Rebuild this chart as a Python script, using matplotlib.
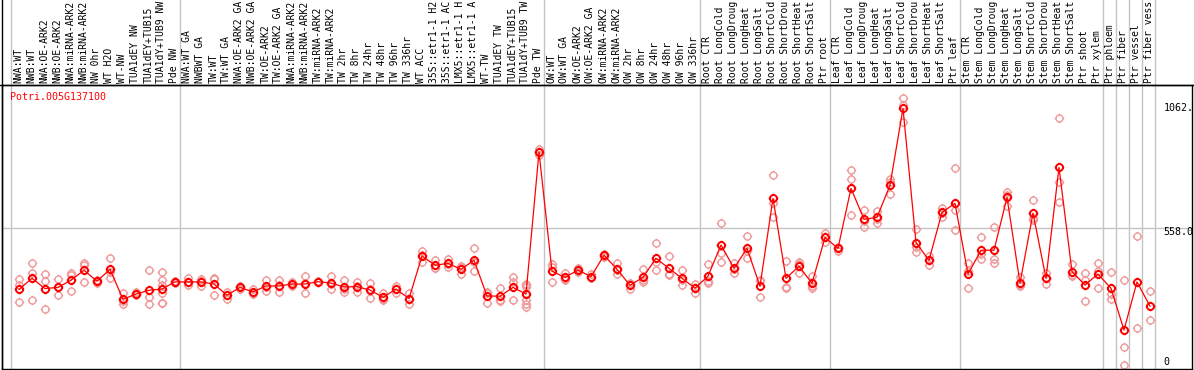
import numpy as np
import matplotlib
matplotlib.use("Agg")
import matplotlib.pyplot as plt
from matplotlib.path import Path
from matplotlib.transforms import blended_transform_factory

# ---------------- data ----------------
gene_id = "Potri.005G137100"

grp1 = ["NWA:WT", "NWB:WT", "NWA:OE-ARK2", "NWB:OE-ARK2", "NWA:miRNA-ARK2",
        "NWB:miRNA-ARK2", "NW 0hr", "WT H2O", "WT-NW", "TUA1dEY NW",
        "TUA1dEY+TUB15", "TUA1dY+TUB9 NW", "Pde NW"]
grp2 = ["NWA:WT GA", "NWBWT GA", "TW:WT", "TW:WT GA", "NWA:OE-ARK2 GA",
        "NWB:OE-ARK2 GA", "TW:OE-ARK2", "TW:OE-ARK2 GA", "NWA:miRNA-ARK2",
        "NWB:miRNA-ARK2", "TW:miRNA-ARK2", "TW:miRNA-ARK2", "TW 2hr", "TW 8hr",
        "TW 24hr", "TW 48hr", "TW 96hr", "TW 336hr", "WT ACC",
        "35S::etr1-1 H2", "35S::etr1-1 AC", "LMX5::etr1-1 H", "LMX5::etr1-1 A",
        "WT-TW", "TUA1dEY TW", "TUA1dEY+TUB15", "TUA1dY+TUB9 TW", "Pde TW"]
grp3 = ["OW:WT", "OW:WT GA", "OW:OE-ARK2", "OW:OE-ARK2 GA", "OW:miRNA-ARK2",
        "OW:miRNA-ARK2", "OW 2hr", "OW 8hr", "OW 24hr", "OW 48hr", "OW 96hr",
        "OW 336hr"]
grp4 = ["Root CTR", "Root LongCold", "Root LongDroug", "Root LongHeat",
        "Root LongSalt", "Root ShortCold", "Root ShortDrou", "Root ShortHeat",
        "Root ShortSalt", "Ptr root"]
grp5 = ["Leaf CTR", "Leaf LongCold", "Leaf LongDroug", "Leaf LongHeat",
        "Leaf LongSalt", "Leaf ShortCold", "Leaf ShortDrou", "Leaf ShortHeat",
        "Leaf ShortSalt", "Ptr leaf"]
grp6 = ["Stem CTR", "Stem LongCold", "Stem LongDroug", "Stem LongHeat",
        "Stem LongSalt", "Stem ShortCold", "Stem ShortDrou", "Stem ShortHeat",
        "Stem ShortSalt", "Ptr shoot", "Ptr xylem"]
grp7 = ["Ptr phloem"]
grp8 = ["Ptr fiber"]
grp9 = ["Ptr vessel"]
grp10 = ["Ptr fiber vess"]
groups = [grp1, grp2, grp3, grp4, grp5, grp6, grp7, grp8, grp9, grp10]
categories = [c for g in groups for c in g]

means = [302, 348, 305, 310, 340, 382, 336, 386, 260, 282, 298, 303, 333,
         333, 333, 324, 277, 310, 291, 316, 316, 324, 324, 334, 328, 312, 313,
         299, 268, 303, 263, 442, 403, 411, 386, 424, 274, 273, 310, 282, 879,
         378, 352, 383, 355, 445, 386, 319, 352, 432, 390, 348, 307,
         357, 488, 390, 474, 315, 684, 348, 399, 327, 520,
         474, 726, 596, 604, 739, 1062, 498, 424, 625, 663,
         366, 466, 466, 688, 328, 622, 348, 814, 376, 320, 366,
         306, 131, 333, 231]

replicates = [
    [344, 320, 247], [412, 369, 257], [366, 338, 218], [344, 312, 277],
    [369, 362, 295], [412, 404, 331], [341, 336, 330], [433, 376, 349],
    [288, 252, 240], [291, 282, 276], [382, 268, 240],
    [373, 341, 320, 285, 245, 243], [338, 333, 330],
    [349, 333, 319], [347, 335, 317], [349, 345, 278], [291, 280, 260],
    [315, 310, 303], [305, 285, 283], [340, 313, 295], [340, 319, 289],
    [331, 324, 317], [358, 329, 285], [337, 334, 331], [358, 324, 302],
    [341, 304, 291], [331, 316, 292], [328, 305, 264], [285, 262, 257],
    [317, 304, 288], [288, 260, 241], [463, 445, 418], [424, 393, 392],
    [429, 407, 397], [398, 394, 366], [475, 418, 380], [291, 285, 246],
    [306, 259, 254], [354, 333, 256], [323, 318, 313, 257, 239, 226],
    [893, 879, 865],
    [407, 397, 331], [369, 347, 341], [390, 383, 376], [365, 352, 348],
    [452, 447, 439], [411, 382, 365], [327, 324, 305], [386, 340, 331],
    [495, 418, 384], [442, 365, 363], [382, 343, 319], [326, 307, 288],
    [408, 336, 327], [579, 453, 418], [414, 387, 369], [526, 464, 432],
    [341, 336, 271], [781, 663, 604], [420, 313, 306], [418, 410, 369],
    [358, 317, 306], [540, 522, 499],
    [481, 476, 464], [803, 764, 613], [635, 588, 565], [632, 598, 582],
    [764, 752, 701], [1104, 1076, 1006], [554, 480, 459], [443, 426, 403],
    [645, 624, 607], [810, 635, 550],
    [412, 380, 306], [522, 449, 428], [564, 428, 414], [712, 700, 652],
    [355, 320, 315], [677, 602, 593], [372, 348, 324], [1020, 754, 669],
    [407, 364, 358], [369, 340, 253], [412, 380, 306],
    [373, 281, 260], [341, 61, -15], [526, 140], [295, 173],
]

y_labels = ["1062.", "558.0", "0"]
grid_value = 558

# ---------------- figure ----------------
W, H = 1194, 370
fig = plt.figure(figsize=(W / 100, H / 100), dpi=100)
L, R, T, B = 1.5, 1192.3, 84.5, 369.3
ax = fig.add_axes([L / W, (H - B) / H, (R - L) / W, (B - T) / H])

pxx = 13.0
xmin = (L - 19) / pxx
xmax = xmin + (R - L) / pxx
ax.set_xlim(xmin, xmax)
y0pix, ppu = 361.2, 1 / 4.2
ax.set_ylim((y0pix - B) / ppu, (y0pix - T) / ppu)
ax.set_xticks([])
ax.set_yticks([])
for s in ax.spines.values():
    s.set_linewidth(1.0)
    s.set_color("black")

mono = "DejaVu Sans Mono"
grey = "#c4c4c4"

# marker: circle with small ticks
circ = Path.unit_circle()
tk = 1.35
ticks = Path([(0, 1), (0, tk), (0, -1), (0, -tk), (1, 0), (tk, 0), (-1, 0), (-tk, 0)],
             [Path.MOVETO, Path.LINETO] * 4)
gear = Path.make_compound_path(circ, ticks)

# horizontal grid line
ax.axhline(grid_value, color=grey, lw=1.0, zorder=1)

# vertical separators (extend through header)
ext = B / (B - T)
sizes = [len(g) for g in groups]
bounds = np.cumsum([0] + sizes)
for b in bounds[:-1]:
    ax.axvline(b - 8 / 13, ymin=0, ymax=ext, color=grey, lw=1.0, clip_on=False, zorder=1)
ax.axvline(len(categories) - 1 + 5 / 13, ymin=0, ymax=ext, color=grey, lw=1.0,
           clip_on=False, zorder=1)
# left border extends to top
ax.axvline(xmin, ymin=0, ymax=ext, color="black", lw=1.0, clip_on=False, zorder=5)
# header bottom line across full width
fig.add_artist(plt.Line2D([0, 1], [(H - T) / H] * 2, color="black", lw=1.0,
                          transform=fig.transFigure))

x = np.arange(len(categories))

# replicates
for i, reps in enumerate(replicates):
    ax.plot([i] * len(reps), reps, linestyle="none", marker=gear, markersize=6.8,
            markerfacecolor="none", markeredgecolor="#ef9a9a", markeredgewidth=1.0,
            zorder=2, clip_on=False)

# mean line and markers
ax.plot(x, means, color="#ff0000", lw=0.9, zorder=3)
ax.plot(x, means, linestyle="none", marker=gear, markersize=6.8,
        markerfacecolor="none", markeredgecolor="#ff0000", markeredgewidth=1.4,
        zorder=4)

# category labels in header
tr = blended_transform_factory(ax.transData, ax.transAxes)
for i, lab in enumerate(categories):
    ax.text(i - 0.04, 1 + 1.6 / (B - T), lab, rotation=90, ha="center", va="bottom",
            fontsize=7, family=mono, transform=tr, clip_on=False)

# gene id
fig.text(10 / W, 1 - 97 / H, gene_id, color="#ff0000", fontsize=7.2, family=mono,
         ha="left", va="center")

# right-side value labels
for lab, ypix in zip(y_labels, [108, 231.5, 362]):
    fig.text(1163.5 / W, 1 - ypix / H, lab, color="black", fontsize=7.2, family=mono,
             ha="left", va="center")

fig.savefig("out.png", dpi=100)
